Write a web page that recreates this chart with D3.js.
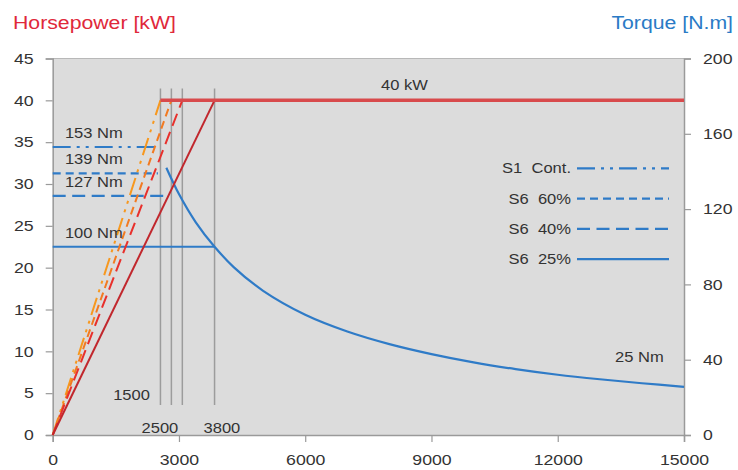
<!DOCTYPE html>
<html>
<head>
<meta charset="utf-8">
<script src="https://cdn.jsdelivr.net/npm/d3@7"></script>
<style>
  html, body { margin: 0; padding: 0; background: #fff; }
  svg { display: block; }
  text { font-family: "Liberation Sans", Arial, sans-serif; fill: #333; white-space: pre; }
</style>
</head>
<body>
<svg id="chart" width="738" height="470"></svg>
<script>
// ---- data ----
const seriesNames = ["S1  Cont.", "S6  60%", "S6  40%", "S6  25%"];
const cornerRpm   = [2560, 2820, 3080, 3846];     // rpm where rated power (40 kW) is reached
const peakTorque  = [153, 139, 127, 100];         // Nm, flat torque level of each series
const flatEndRpm  = [2430, 2500, 2700, 3846];     // where each flat torque line ends
const ratedPower  = 40;                           // kW
const torqueLabels = ["153 Nm", "139 Nm", "127 Nm", "100 Nm"];
// constant-power torque envelope
const envRpm = [2700, 3000, 3400, 3846, 4300, 5000, 6000, 7000, 8000, 9000, 10000, 11000, 12000, 13000, 14000, 15000];
const envNm  = [142, 128, 113, 100, 89.2, 76.6, 63.9, 55, 48.3, 43, 38.6, 35, 32, 29.6, 27.5, 25.6];
// markers for speed lines
const speedMarkLow = 3.6, speedMarkHigh = 41.4;   // kW extent of the vertical speed lines
const speedLabels = ["1500", "2500", "3800"];
// axes ticks
const xTicks  = [0, 3000, 6000, 9000, 12000, 15000];
const yLTicks = [0, 5, 10, 15, 20, 25, 30, 35, 40, 45];
const yRTicks = [0, 40, 80, 120, 160, 200];

// ---- styles ----
const powerColors = ["#f7981f", "#f27a21", "#e8302c", "#c1272d"];
const dashes = ["18,6,3,6,3,6", "8,5", "13,6.5", null];
const blue = "#2f7bc7";
const STRETCH = 1.18;

const svg = d3.select("#chart");
const x  = d3.scaleLinear().domain([0, 15000]).range([52.7, 684]);
const yL = d3.scaleLinear().domain([0, 45]).range([435, 58.5]);
const yR = d3.scaleLinear().domain([0, 200]).range([435, 58.5]);

// plot background
svg.append("rect").attr("x", x(0)).attr("y", yL(45))
  .attr("width", x(15000) - x(0)).attr("height", yL(0) - yL(45))
  .attr("fill", "#dcdcdc");
svg.append("line").attr("x1", x(0)).attr("x2", x(15000)).attr("y1", yL(45)).attr("y2", yL(45))
  .attr("stroke", "#b8b8b8").attr("stroke-width", 1);

// axes
function styleAxis(g) {
  g.select(".domain").attr("stroke", "#9a9a9a").attr("stroke-width", 1.5);
  g.selectAll(".tick line").attr("stroke", "#9a9a9a").attr("stroke-width", 1.2);
  g.selectAll(".tick text").style("font-size", "15px").attr("fill", "#333");
}
svg.append("g").attr("transform", `translate(0,${yL(0)})`)
  .call(d3.axisBottom(x).tickValues(xTicks).tickSize(7).tickPadding(12).tickFormat(d3.format("d")))
  .call(styleAxis);
svg.append("g").attr("transform", `translate(${x(0)},0)`)
  .call(d3.axisLeft(yL).tickValues(yLTicks).tickSize(7).tickPadding(12))
  .call(styleAxis);
svg.append("g").attr("transform", `translate(${x(15000)},0)`)
  .call(d3.axisRight(yR).tickValues(yRTicks).tickSize(7).tickPadding(12))
  .call(styleAxis);

// vertical speed lines
svg.append("g").selectAll("line").data(cornerRpm).join("line")
  .attr("x1", d => x(d)).attr("x2", d => x(d))
  .attr("y1", yL(speedMarkHigh)).attr("y2", yL(speedMarkLow))
  .attr("stroke", "#9c9c9c").attr("stroke-width", 1.5);

// torque lines (flat part)
const lineT = d3.line().x(d => x(d[0])).y(d => yR(d[1]));
peakTorque.forEach((t, i) => {
  svg.append("path").datum([[0, t], [flatEndRpm[i], t]])
    .attr("d", lineT).attr("fill", "none").attr("stroke", blue)
    .attr("stroke-width", 2.2).attr("stroke-dasharray", dashes[i]);
});
// constant power torque envelope (S6 25% solid curve)
svg.append("path").datum(envRpm.map((r, i) => [r, envNm[i]]))
  .attr("d", d3.line().x(d => x(d[0])).y(d => yR(d[1])).curve(d3.curveCatmullRom.alpha(0.5)))
  .attr("fill", "none").attr("stroke", blue).attr("stroke-width", 2.2);

// power lines
const lineP = d3.line().x(d => x(d[0])).y(d => yL(d[1]));
cornerRpm.forEach((r, i) => {
  svg.append("path").datum([[0, 0], [r, ratedPower]])
    .attr("d", lineP).attr("fill", "none").attr("stroke", powerColors[i])
    .attr("stroke-width", 2).attr("stroke-dasharray", dashes[i]);
});
// rated power plateau
svg.append("path").datum([[cornerRpm[0], ratedPower], [15000, ratedPower]])
  .attr("d", lineP).attr("fill", "none").attr("stroke", "#d84a4c")
  .attr("stroke-width", 3.5);

// annotations
const ann = svg.append("g").style("font-size", "14px");
torqueLabels.forEach((t, i) => {
  ann.append("text").attr("x", x(290)).attr("y", yR(peakTorque[i]) - 9).text(t);
});
ann.append("text").attr("x", x(7800)).attr("y", yL(ratedPower) - 10).text(ratedPower + " kW");
ann.append("text").attr("x", x(14520)).attr("y", yR(envNm[envNm.length - 1]) - 25)
  .attr("text-anchor", "end").text("25 Nm");
ann.append("text").attr("x", x(2311)).attr("y", yL(4.2)).attr("text-anchor", "end").text(speedLabels[0]);
ann.append("text").attr("x", x(2548)).attr("y", 433).attr("text-anchor", "middle").text(speedLabels[1]);
ann.append("text").attr("x", x(4020)).attr("y", 433).attr("text-anchor", "middle").text(speedLabels[2]);

// legend
const leg = svg.append("g");
seriesNames.forEach((n, i) => {
  const yy = 168.3 + i * 30.3;
  leg.append("text").attr("x", 571).attr("y", yy + 5).attr("text-anchor", "end")
    .attr("xml:space", "preserve").style("font-size", "14px").text(n);
  leg.append("line").attr("x1", 577).attr("x2", 669).attr("y1", yy).attr("y2", yy)
    .attr("stroke", blue).attr("stroke-width", 2.2).attr("stroke-dasharray", dashes[i]);
});

// titles
svg.append("text").attr("x", 13).attr("y", 28.5).style("font-size", "18px")
  .style("fill", "#e0283a").text("Horsepower [kW]");
svg.append("text").attr("x", 733).attr("y", 28.5).attr("text-anchor", "end").style("font-size", "18px")
  .style("fill", "#2a7bc6").text("Torque [N.m]");

// the reference's lettering is horizontally wider than the font: stretch every label
svg.selectAll("text").each(function () {
  const L = this.getComputedTextLength();
  this.setAttribute("textLength", (L * STRETCH).toFixed(1));
  this.setAttribute("lengthAdjust", "spacingAndGlyphs");
});
</script>
</body>
</html>
